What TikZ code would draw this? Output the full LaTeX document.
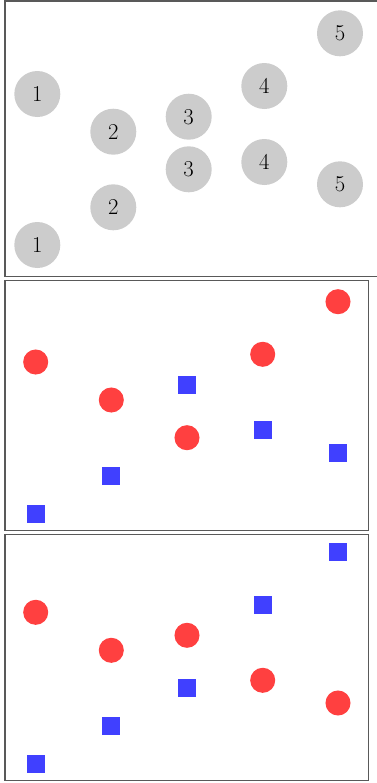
\documentclass[tikz,border=0pt]{standalone}
\usetikzlibrary{positioning}
\begin{document}
\begin{tikzpicture}[x=0.75pt,y=-0.75pt,
  panel/.style={draw=black!65,line width=0.9pt},
  numdot/.style={circle,fill=black!20,minimum size=34.5pt,inner sep=0pt,font=\fontsize{17}{20}\selectfont},
  reddot/.style={circle,fill=red!75,minimum size=18.8pt,inner sep=0pt},
  bluesq/.style={rectangle,fill=blue!75,minimum size=13.5pt,inner sep=0pt}]
\useasboundingbox (0,0) rectangle (377,783);
\begin{scope}
\clip (0,0) rectangle (377,783);
\draw[panel] (5,1) rectangle (382,276.5);
\end{scope}
\draw[panel] (5,280.7) rectangle (368.3,530.7);
\draw[panel] (5,534.3) rectangle (368.3,780.7);
% panel 1
\node[numdot] (a1) at (37.3,94) {1};
\node[numdot] (a2) at (113.3,131.7) {2};
\node[numdot] (a3) at (188.7,116.7) {3};
\node[numdot] (a4) at (264.3,86) {4};
\node[numdot] (a5) at (340,33.3) {5};
\node[numdot] (b1) at (37.3,245) {1};
\node[numdot] (b2) at (113.3,207.3) {2};
\node[numdot] (b3) at (188.7,169.3) {3};
\node[numdot] (b4) at (264.3,162) {4};
\node[numdot] (b5) at (340,184.3) {5};
% panel 2
\node[reddot] (c1) at (35.7,362) {};
\node[reddot] (c2) at (111.3,400) {};
\node[reddot] (c3) at (187,437.7) {};
\node[reddot] (c4) at (262.7,354.3) {};
\node[reddot] (c5) at (338,301.7) {};
\node[bluesq] (d1) at (36,514) {};
\node[bluesq] (d2) at (111,476) {};
\node[bluesq] (d3) at (187,385) {};
\node[bluesq] (d4) at (263,430) {};
\node[bluesq] (d5) at (338,453) {};
% panel 3
\node[reddot] (e1) at (35.7,612.3) {};
\node[reddot] (e2) at (111.3,650.3) {};
\node[reddot] (e3) at (187,635.3) {};
\node[reddot] (e4) at (262.7,680.3) {};
\node[reddot] (e5) at (338,703) {};
\node[bluesq] (f1) at (36,764) {};
\node[bluesq] (f2) at (111,726) {};
\node[bluesq] (f3) at (187,688) {};
\node[bluesq] (f4) at (263,605) {};
\node[bluesq] (f5) at (338,552) {};
\end{tikzpicture}
\end{document}
